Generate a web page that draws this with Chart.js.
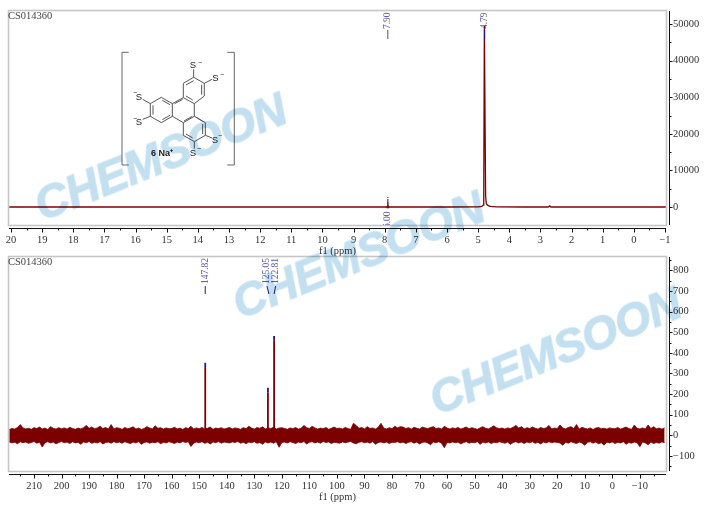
<!DOCTYPE html>
<html>
<head>
<meta charset="utf-8">
<title>CS014360</title>
<script src="https://cdn.jsdelivr.net/npm/chart.js@4"></script>
<style>
  html, body { margin: 0; padding: 0; background: #fff; }
  #page { position: relative; width: 721px; height: 512px; overflow: hidden; }
  canvas { position: absolute; left: 0; }
  #h1Chart { top: 0; }
  #c13Chart { top: 246px; }
  #structure { position: absolute; left: 0; top: 0; }
  .mark {
    position: absolute; white-space: nowrap; color: #c3e0f1; mix-blend-mode: multiply;
    font: italic bold 46px "Liberation Sans", sans-serif; letter-spacing: -0.5px;
    -webkit-text-stroke: 1.2px #c3e0f1;
    transform-origin: 0 100%; transform: rotate(-22deg); line-height: 1;
  }
</style>
</head>
<body>
<div id="page">
  <canvas id="h1Chart" width="721" height="258"></canvas>
  <canvas id="c13Chart" width="721" height="266"></canvas>
  <svg id="structure" width="721" height="256" font-family="Liberation Sans, sans-serif">
    <g transform="scale(0.3333)" fill="none" stroke="#555" stroke-width="3">
      <path d="M386 157H366V495H386M682 157H703V495H682" stroke="#666"/>
      <path d="M550 293L583 311L583 349L550 368L517 349L517 311Z"/>
      <path d="M550 293L550 250L581 232L613 250L613 288L583 311"/>
      <path d="M517 311L484 292L451 311L451 349L484 368L517 349"/>
      <path d="M583 349L616 368L616 406L583 425L550 406L550 368"/>
      <path d="M558 255L581 242M605 254V284M558 288L578 300"/>
      <path d="M487 301L510 314M459 316V344M487 359L510 346"/>
      <path d="M590 353L608 364M608 372V402M558 402L578 414"/>
      <path d="M524 311L548 298M577 349L552 363"/>
      <path d="M581 232V208M613 250L636 238M451 311L428 298M451 349L428 358M616 406L636 414M583 425V446"/>
    </g>
    <g fill="#222" font-size="9.5" text-anchor="middle">
      <text x="193" y="68">S</text><text x="215.5" y="81">S</text>
      <text x="139" y="100">S</text><text x="139" y="124.500">S</text>
      <text x="215" y="143">S</text><text x="193" y="156">S</text>
      <text x="200" y="65" font-size="7">−</text><text x="222" y="77" font-size="7">−</text>
      <text x="135" y="95" font-size="7">−</text><text x="135" y="121" font-size="7">−</text>
      <text x="220" y="138" font-size="7">−</text><text x="199" y="151" font-size="7">−</text>
      <text x="162" y="156" font-size="9" font-weight="bold">6 Na⁺</text>
    </g>
  </svg>
  <div class="mark" style="left:45px;top:182px">CHEMSOON</div>
  <div class="mark" style="left:243px;top:280px">CHEMSOON</div>
  <div class="mark" style="left:440px;top:376px">CHEMSOON</div>
</div>

<script>
// 1H trace
const hPpm = [20.06, 16, 12, 9, 8.05, 7.94, 7.91, 7.90, 7.89, 7.86, 7.5, 6, 5, 4.88, 4.84, 4.82, 4.80, 4.78, 4.76, 4.74, 4.70, 4.62, 4.4, 3.5, 2.75, 2.70, 2.66, 2, 1, 0, -1.03];
const hValue = [0, 0, 0, 0, 0, 0, 0, 1366, 0, 0, 0, 0, 20, 150, 500, 3000, 49500, 49500, 3000, 1000, 500, 150, 30, 0, 0, 300, 0, 0, 0, 0, 0];
const hYTicks = [0, 5000, 10000, 15000, 20000, 25000, 30000, 35000, 40000, 45000, 50000];
const hLabelPpm = [7.90, 4.79];
const hLabelText = ['7.90', '4.79'];
const hIntegralPpm = [7.90];
const hIntegralText = ['6.00'];
const hTipPpm = [7.90, 7.90];
const hTipValue = [1366, 2732];
const hDotValue = [0];

// 13C noise band, upper and lower edge read every 1 ppm
const cPpm = [219, 218, 217, 216, 215, 214, 213, 212, 211, 210, 209, 208, 207, 206, 205, 204, 203, 202, 201, 200,
  199, 198, 197, 196, 195, 194, 193, 192, 191, 190, 189, 188, 187, 186, 185, 184, 183, 182, 181, 180,
  179, 178, 177, 176, 175, 174, 173, 172, 171, 170, 169, 168, 167, 166, 165, 164, 163, 162, 161, 160,
  159, 158, 157, 156, 155, 154, 153, 152, 151, 150, 149, 148, 147, 146, 145, 144, 143, 142, 141, 140,
  139, 138, 137, 136, 135, 134, 133, 132, 131, 130, 129, 128, 127, 126, 125, 124, 123, 122, 121, 120,
  119, 118, 117, 116, 115, 114, 113, 112, 111, 110, 109, 108, 107, 106, 105, 104, 103, 102, 101, 100,
  99, 98, 97, 96, 95, 94, 93, 92, 91, 90, 89, 88, 87, 86, 85, 84, 83, 82, 81, 80,
  79, 78, 77, 76, 75, 74, 73, 72, 71, 70, 69, 68, 67, 66, 65, 64, 63, 62, 61, 60,
  59, 58, 57, 56, 55, 54, 53, 52, 51, 50, 49, 48, 47, 46, 45, 44, 43, 42, 41, 40,
  39, 38, 37, 36, 35, 34, 33, 32, 31, 30, 29, 28, 27, 26, 25, 24, 23, 22, 21, 20,
  19, 18, 17, 16, 15, 14, 13, 12, 11, 10, 9, 8, 7, 6, 5, 4, 3, 2, 1, 0,
  -1, -2, -3, -4, -5, -6, -7, -8, -9, -10, -11, -12, -13, -14, -15, -16, -17, -18, -19];
const cTop = [28, 33, 30, 38, 52, 36, 31, 34, 29, 37, 33, 40, 31, 35, 28, 42, 34, 30, 37, 32,
  36, 30, 39, 33, 29, 35, 31, 37, 48, 34, 40, 32, 36, 44, 33, 38, 30, 52, 31, 37,
  34, 29, 38, 32, 36, 41, 30, 35, 28, 33, 42, 35, 31, 46, 34, 37, 30, 36, 32, 33,
  39, 31, 35, 28, 37, 33, 44, 30, 36, 32, 38, 31, 34, 40, 29, 35, 33, 37, 30, 34,
  38, 31, 36, 33, 29, 37, 32, 44, 35, 30, 38, 34, 41, 31, 36, 33, 39, 30, 35, 37,
  33, 29, 36, 32, 38, 30, 34, 48, 37, 33, 44, 36, 30, 35, 32, 38, 29, 34, 40, 33,
  35, 31, 38, 33, 29, 58, 48, 34, 38, 31, 42, 33, 36, 30, 39, 58, 35, 31, 37, 32,
  44, 36, 42, 40, 33, 37, 30, 39, 34, 31, 40, 36, 33, 38, 42, 32, 36, 30, 44, 35,
  31, 36, 33, 38, 30, 35, 40, 32, 37, 33, 29, 36, 42, 34, 31, 38, 46, 36, 33, 35,
  30, 36, 33, 39, 48, 35, 42, 31, 37, 33, 40, 34, 30, 38, 33, 36, 48, 31, 35, 33,
  50, 36, 31, 38, 42, 33, 52, 30, 39, 34, 31, 36, 28, 35, 38, 32, 34, 30, 36, 33,
  32, 38, 30, 35, 40, 33, 29, 50, 34, 31, 36, 30, 50, 33, 42, 32, 35, 30, 36];
const cBottom = [-32, -37, -34, -41, -31, -36, -33, -39, -35, -30, -38, -34, -57, -36, -31, -37, -33, -42, -35, -30,
  -36, -33, -40, -31, -37, -34, -44, -32, -36, -30, -39, -34, -37, -31, -42, -35, -33, -38, -31, -36,
  -33, -38, -31, -36, -40, -33, -37, -30, -44, -35, -32, -38, -34, -36, -31, -41, -34, -37, -31, -35,
  -40, -33, -37, -30, -35, -31, -54, -38, -33, -36, -31, -39, -34, -42, -32, -36, -30, -38, -33, -35,
  -37, -32, -35, -30, -38, -34, -41, -33, -36, -31, -39, -35, -44, -32, -37, -33, -38, -31, -58, -35,
  -33, -37, -31, -35, -40, -33, -36, -30, -42, -34, -31, -37, -33, -38, -30, -35, -32, -40, -34, -36,
  -38, -32, -36, -33, -30, -37, -41, -34, -31, -36, -33, -38, -30, -44, -35, -32, -37, -33, -40, -34,
  -35, -31, -37, -33, -40, -34, -31, -38, -33, -42, -35, -32, -37, -46, -33, -36, -31, -39, -60, -35,
  -37, -32, -36, -33, -42, -35, -31, -38, -34, -36, -31, -44, -33, -37, -32, -40, -34, -36, -31, -35,
  -38, -33, -44, -35, -31, -37, -33, -40, -32, -36, -31, -39, -34, -42, -33, -37, -31, -36, -33, -35,
  -37, -48, -34, -38, -31, -36, -40, -33, -37, -48, -34, -31, -38, -33, -41, -36, -48, -33, -37, -32,
  -40, -34, -37, -31, -44, -35, -38, -33, -36, -55, -32, -37, -46, -33, -40, -35, -38, -32, -36];
const cPeakPpm = [147.82, 125.05, 122.81];
const cPeakValue = [327, 207, 462];
const cPeakTip = [352, 231, 482];
const cLabelText = ['147.82', '125.05', '122.81'];
const cYTicks = [-150, -100, -50, 0, 50, 100, 150, 200, 250, 300, 350, 400, 450, 500, 550, 600, 650, 700, 750, 800, 850];

const sampleName = 'CS014360';
const axisFont = { family: '"Liberation Serif", serif', size: 10.5 };
const textColor = '#333';
const traceColor = '#7d0000';

function signed(v) {
  return v < 0 ? '\u2212' + (-v) : String(v);
}

// gray frame, offset axis lines and rotated peak labels
function panelPlugin(labels) {
  return {
    id: 'panel',
    afterDatasetsDraw(chart) {
      const { ctx, chartArea: a, scales: { x, y } } = chart;
      ctx.save();
      ctx.strokeStyle = '#c6c6c6';
      ctx.lineWidth = 1.6;
      ctx.strokeRect(a.left - 0.5, a.top - 0.5, a.right - a.left + 1, a.bottom - a.top + 1);

      ctx.strokeStyle = '#111';
      ctx.lineWidth = 1;
      ctx.beginPath();
      ctx.moveTo(a.left, a.bottom + 3.5);
      ctx.lineTo(a.right, a.bottom + 3.5);
      x.ticks.forEach(t => {
        const px = Math.round(x.getPixelForValue(t.value)) + 0.5;
        ctx.moveTo(px, a.bottom + 3.5);
        ctx.lineTo(px, a.bottom + (t.label ? 7.5 : 5.5));
      });
      ctx.moveTo(a.right + 3.5, a.top);
      ctx.lineTo(a.right + 3.5, a.bottom);
      y.ticks.forEach(t => {
        const py = Math.round(y.getPixelForValue(t.value)) + 0.5;
        ctx.moveTo(a.right + 3.5, py);
        ctx.lineTo(a.right + (t.label ? 6.5 : 5.5), py);
      });
      ctx.stroke();

      ctx.fillStyle = '#444';
      ctx.font = '10.5px "Liberation Serif", serif';
      ctx.textBaseline = 'top';
      ctx.fillText(sampleName, a.left - 1, a.top);

      ctx.beginPath();
      ctx.rect(a.left, a.top, a.right - a.left, a.bottom - a.top);
      ctx.clip();
      labels(ctx, a, x);
      ctx.restore();
    }
  };
}

function rotatedLabel(ctx, text, px, bottom, color) {
  ctx.save();
  ctx.translate(px, bottom);
  ctx.rotate(-Math.PI / 2);
  ctx.fillStyle = color;
  ctx.font = '9.5px "Liberation Serif", serif';
  ctx.textAlign = 'left';
  ctx.textBaseline = 'middle';
  ctx.fillText(text, 0, 0);
  ctx.restore();
}

function connector(ctx, x1, y1, x2, y2, color) {
  ctx.strokeStyle = color;
  ctx.lineWidth = 1;
  ctx.beginPath();
  ctx.moveTo(x1, y1);
  ctx.lineTo(x2, y2);
  ctx.stroke();
}

function axisOptions(xMin, xMax, xStep, xMajor, yMin, yMax, yTicks, yMajor) {
  return {
    responsive: false,
    animation: false,
    layout: { padding: { left: 9, top: 11, right: 0, bottom: 0 } },
    plugins: { legend: { display: false }, tooltip: { enabled: false } },
    scales: {
      x: {
        type: 'linear', reverse: true, min: xMin, max: xMax,
        grid: { display: false }, border: { display: false },
        afterFit: s => { s.height = 33; },
        title: { display: true, text: 'f1 (ppm)', font: axisFont, color: textColor, padding: 0 },
        ticks: {
          stepSize: xStep, includeBounds: false, autoSkip: false, maxRotation: 0,
          font: axisFont, color: textColor, padding: 1,
          callback: v => (Math.abs(v % xMajor) < 1e-9 ? signed(v) : '')
        }
      },
      y: {
        position: 'right', min: yMin, max: yMax,
        grid: { display: false, tickLength: 7 }, border: { display: false },
        afterFit: s => { s.width = 55; },
        afterBuildTicks: s => { s.ticks = yTicks.map(value => ({ value })); },
        ticks: {
          includeBounds: false, autoSkip: false,
          font: axisFont, color: textColor, padding: 0,
          callback: v => (Math.abs(v % yMajor) < 1e-9 ? signed(v) : '')
        }
      }
    }
  };
}

function xy(xs, ys) {
  return xs.map((v, i) => ({ x: v, y: ys[i] }));
}

new Chart(document.getElementById('h1Chart').getContext('2d'), {
  type: 'line',
  data: {
    datasets: [
      { data: xy(hPpm, hValue), borderColor: traceColor, borderWidth: 1.3, pointRadius: 0, tension: 0 },
      { data: xy(hTipPpm, hTipValue), borderColor: '#3a3aa8', borderWidth: 1.2, borderDash: [3, 1], pointRadius: 0 },
      { data: xy(hIntegralPpm, hDotValue), showLine: false, pointRadius: 1.6, pointBackgroundColor: '#0c7a2e', pointBorderWidth: 0 }
    ]
  },
  options: axisOptions(-1.032, 20.064, 0.5, 1, -4918, 53552, hYTicks, 10000),
  plugins: [panelPlugin((ctx, a, x) => {
    hLabelPpm.forEach((ppm, i) => {
      const px = x.getPixelForValue(ppm);
      rotatedLabel(ctx, hLabelText[i], px, 29, '#5f5ab0');
      connector(ctx, px, 30, px, 39, i ? '#1c1c8a' : '#4a4aa8');
    });
    hIntegralPpm.forEach((ppm, i) => {
      rotatedLabel(ctx, hIntegralText[i], x.getPixelForValue(ppm), 228, '#5f5ab0');
    });
  })]
});

const c13Sets = [
  { data: xy(cPpm, cTop), borderColor: traceColor, backgroundColor: traceColor, borderWidth: 0.8, pointRadius: 0, fill: '+1' },
  { data: xy(cPpm, cBottom), borderColor: traceColor, borderWidth: 0.8, pointRadius: 0 }
];
cPeakPpm.forEach((ppm, i) => {
  c13Sets.push({ data: xy([ppm, ppm], [0, cPeakValue[i]]), borderColor: traceColor, borderWidth: 1.8, pointRadius: 0 });
  c13Sets.push({ data: xy([ppm, ppm], [cPeakValue[i], cPeakTip[i]]), borderColor: '#1c1c8a', borderWidth: 1.8, pointRadius: 0 });
});

new Chart(document.getElementById('c13Chart').getContext('2d'), {
  type: 'line',
  data: { datasets: c13Sets },
  options: (() => {
    const o = axisOptions(-19.5, 219.08, 5, 10, -173.3, 865.5, cYTicks, 100);
    o.layout.padding.bottom = 8;
    return o;
  })(),
  plugins: [panelPlugin((ctx, a, x) => {
    const leans = [[0, 0], [-1, 1], [1.5, 0]];
    cPeakPpm.forEach((ppm, i) => {
      const px = x.getPixelForValue(ppm);
      rotatedLabel(ctx, cLabelText[i], px + leans[i][0], a.top + 27, '#5f5ab0');
      connector(ctx, px + leans[i][0], a.top + 29, px + leans[i][1], a.top + 37, '#1c1c8a');
    });
  })]
});
</script>
</body>
</html>
